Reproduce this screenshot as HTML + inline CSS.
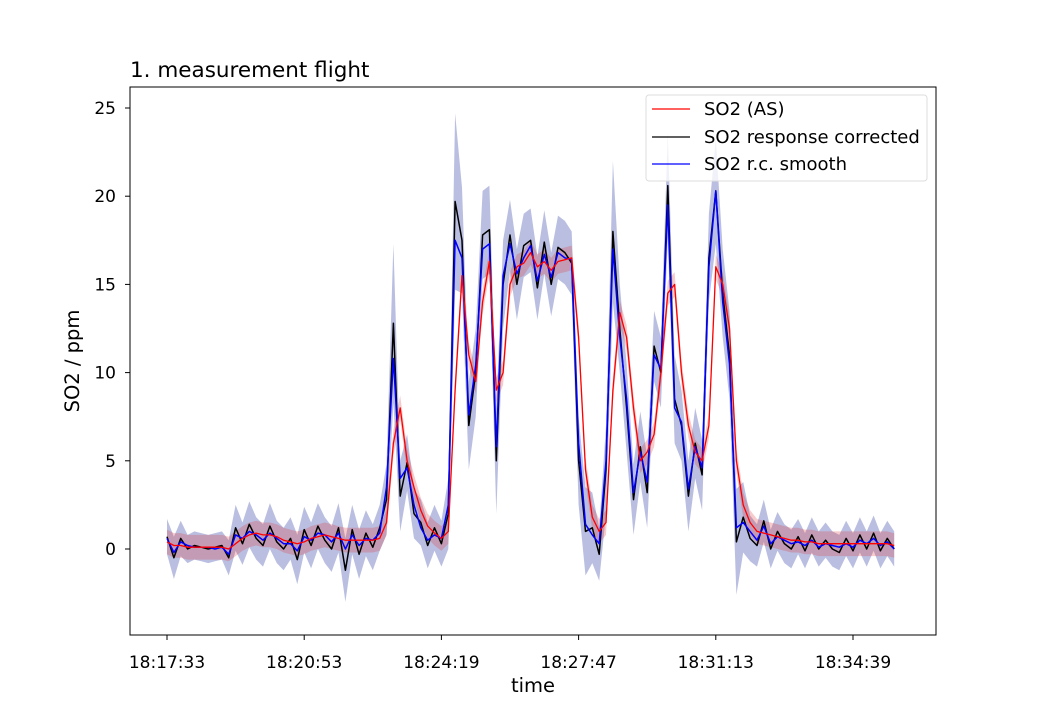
<!DOCTYPE html>
<html><head><meta charset="utf-8"><style>
body{margin:0;background:#fff;font-family:"Liberation Sans","DejaVu Sans",sans-serif}
svg text{font-family:"DejaVu Sans","Liberation Sans",sans-serif}
</style></head><body>
<svg id="c" width="1040" height="715" xmlns="http://www.w3.org/2000/svg">
<rect width="1040" height="715" fill="#fff"/>
<g id="bands"></g><g id="lines"></g>
<rect x="130" y="87" width="806" height="548" fill="none" stroke="#000" stroke-width="1"/>
<g id="axes"></g>
<text x="130" y="77" font-size="21.5">1. measurement flight</text>
<text x="533" y="692" font-size="19.5" text-anchor="middle">time</text>
<text transform="translate(79,361) rotate(-90)" font-size="19.5" text-anchor="middle">SO2 / ppm</text>
<g>
<rect x="646" y="95" width="281" height="86" fill="#fff" fill-opacity="0.8" stroke="#ddd" rx="3"/>
<g><line x1="652" y1="109" x2="690" y2="109" stroke="red" stroke-width="1.3"/><text x="704" y="115" font-size="18">SO2 (AS)</text></g>
<g><line x1="652" y1="137" x2="690" y2="137" stroke="#000" stroke-width="1.3"/><text x="704" y="143" font-size="18">SO2 response corrected</text></g>
<g><line x1="652" y1="164" x2="690" y2="164" stroke="#00f" stroke-width="1.3"/><text x="704" y="170" font-size="18">SO2 r.c. smooth</text></g>
</g>
</svg>
<script>
const xTickLabels=["18:17:33","18:20:53","18:24:19","18:27:47","18:31:13","18:34:39"];
const xTickIdx=[0,200,400,600,800,1000];
const yTicks=[0,5,10,15,20,25];
const sampleStep=10;
const blue=[0.6,-0.2,0.4,0.2,0.1,0.1,0.1,0.0,0.1,-0.3,0.8,0.6,1.0,0.8,0.5,0.9,0.6,0.3,0.3,-0.1,0.7,0.5,0.9,0.8,0.4,0.9,0.0,0.8,0.2,0.6,0.5,0.9,3.5,10.8,4.0,4.6,2.5,1.2,0.5,0.8,0.6,2.5,17.5,16.5,7.6,10.4,17,17.3,5.8,15.5,17.3,15.6,16.5,17.2,15.2,16.7,15.4,16.8,16.5,16.4,6,1.4,0.8,0.3,5,17,12,8.5,3.2,5.5,3.8,11,10.2,19.5,8,7.2,3.4,5.8,4.6,16,20.3,14,10.5,1.2,1.5,1.0,0.5,1.3,0.3,0.7,0.5,0.3,0.4,0.2,0.5,0.1,0.3,0.2,0.1,0.3,0.1,0.5,0.3,0.6,0.2,0.4,0.0];
const black=[0.7,-0.5,0.6,0.0,0.2,0.1,0.0,0.1,0.2,-0.5,1.2,0.3,1.4,0.6,0.2,1.3,0.4,0.0,0.6,-0.6,1.1,0.2,1.3,0.5,0.0,1.2,-1.2,1.1,-0.3,0.9,0.1,1.2,2.8,12.8,3.0,4.9,2.0,1.5,0.2,1.2,0.3,2.0,19.7,17.5,7.0,10.0,17.8,18.1,5.0,15.0,17.8,15.0,17.2,17.5,14.8,17.4,15.0,17.1,16.8,16.2,5.0,1.0,1.2,-0.3,4.5,18.0,12.5,8.0,2.8,5.8,3.2,11.5,10.0,20.6,8.5,7.0,3.0,6.0,4.2,16.5,20.3,14.5,11,0.4,1.8,0.6,0.2,1.6,0.0,1.0,0.3,0.0,0.7,-0.1,0.8,0.0,0.5,0.0,-0.2,0.6,-0.1,0.8,0.0,0.9,-0.1,0.6,0.0];
const red=[0.4,0.2,0.2,0.1,0.1,0.1,0.1,0.1,0.1,0.0,0.3,0.6,0.8,0.9,0.8,0.8,0.7,0.5,0.4,0.3,0.4,0.6,0.7,0.8,0.7,0.6,0.5,0.5,0.5,0.5,0.5,0.6,1.5,6,8,5,3.5,2.2,1.3,0.9,0.6,1.0,9,15.5,11,9.5,14,16.3,9,10,15,16,16.2,16.8,16.0,16.3,15.8,16.3,16.4,16.5,12,4.5,1.8,1.0,1.5,9,13.4,12,8,5,5.5,6.5,10,14.5,15,10,7,5.5,5,7,16,15,12.5,5,2.5,1.5,1.0,0.9,0.8,0.7,0.6,0.5,0.5,0.4,0.4,0.3,0.3,0.3,0.3,0.3,0.3,0.3,0.3,0.3,0.3,0.3,0.2];
const errB=[1,1.2,1,0.8,0.8,0.8,0.8,0.8,0.8,1,1.3,1.2,1.3,1.2,1.2,1.3,1.2,1.2,1.2,1.4,1.3,1.3,1.3,1.3,1.3,1.4,1.8,1.4,1.4,1.3,1.3,1.3,2,4.5,2,1.6,1.4,1.3,1.3,1.3,1.3,2,5,3,2.5,2.5,2.5,2.5,3,2.5,2,2,1.8,1.8,1.8,1.8,1.8,1.8,1.8,1.8,2.5,2.5,2,1.5,2.5,4,2.5,2.5,2,2,2,2,2,3,2.5,2,2,2,2,2.5,3,2.5,2.5,3,2,1.3,1.2,1.2,1.1,1.1,1.1,1.1,1,1,1,1,1,1,1,1,1,1,1,1,1,1,1];
const errR=0.7;
const X=i=>167+i*137.2/200, Y=v=>549-v*17.64;
const NS='http://www.w3.org/2000/svg';
function el(t,a,p){const e=document.createElementNS(NS,t);for(const k in a)e.setAttribute(k,a[k]);document.getElementById(p).appendChild(e);return e;}
function band(vals,err,fill,op,name){let up=vals.map((v,i)=>X(i*sampleStep).toFixed(1)+','+Y(v+(Array.isArray(err)?err[i]:err)).toFixed(1));let dn=vals.map((v,i)=>X(i*sampleStep).toFixed(1)+','+Y(v-(Array.isArray(err)?err[i]:err)).toFixed(1)).reverse();const e=el('polygon',{points:up.concat(dn).join(' '),fill:fill,'fill-opacity':op},'bands');

}
function line(vals,col,w,name){const e=el('polyline',{points:vals.map((v,i)=>X(i*sampleStep).toFixed(1)+','+Y(v).toFixed(1)).join(' '),fill:'none',stroke:col,'stroke-width':w,'stroke-linejoin':'round'},'lines');

}
band(black,errB,'#1a2a9a',0.3,'smooth-uncertainty-band');
band(red,errR,'#e03030',0.25,'as-uncertainty-band');
line(black,'#000',1.5,'response-corrected-line');
line(blue,'#00f',1.5,'smooth-line');
line(red,'#f00',1.3,'as-line');
xTickIdx.forEach((t,k)=>{const x=X(t);const l=el('line',{x1:x,x2:x,y1:635,y2:640,stroke:'#000'},'axes');


const tx=el('text',{x:x,y:668,'font-size':17,'text-anchor':'middle'},'axes');tx.textContent=xTickLabels[k];

});
yTicks.forEach(v=>{const y=Y(v);const l=el('line',{x1:125,x2:130,y1:y,y2:y,stroke:'#000'},'axes');


const tx=el('text',{x:116,y:y+6,'font-size':17,'text-anchor':'end'},'axes');tx.textContent=v;

});
</script>
</body></html>
